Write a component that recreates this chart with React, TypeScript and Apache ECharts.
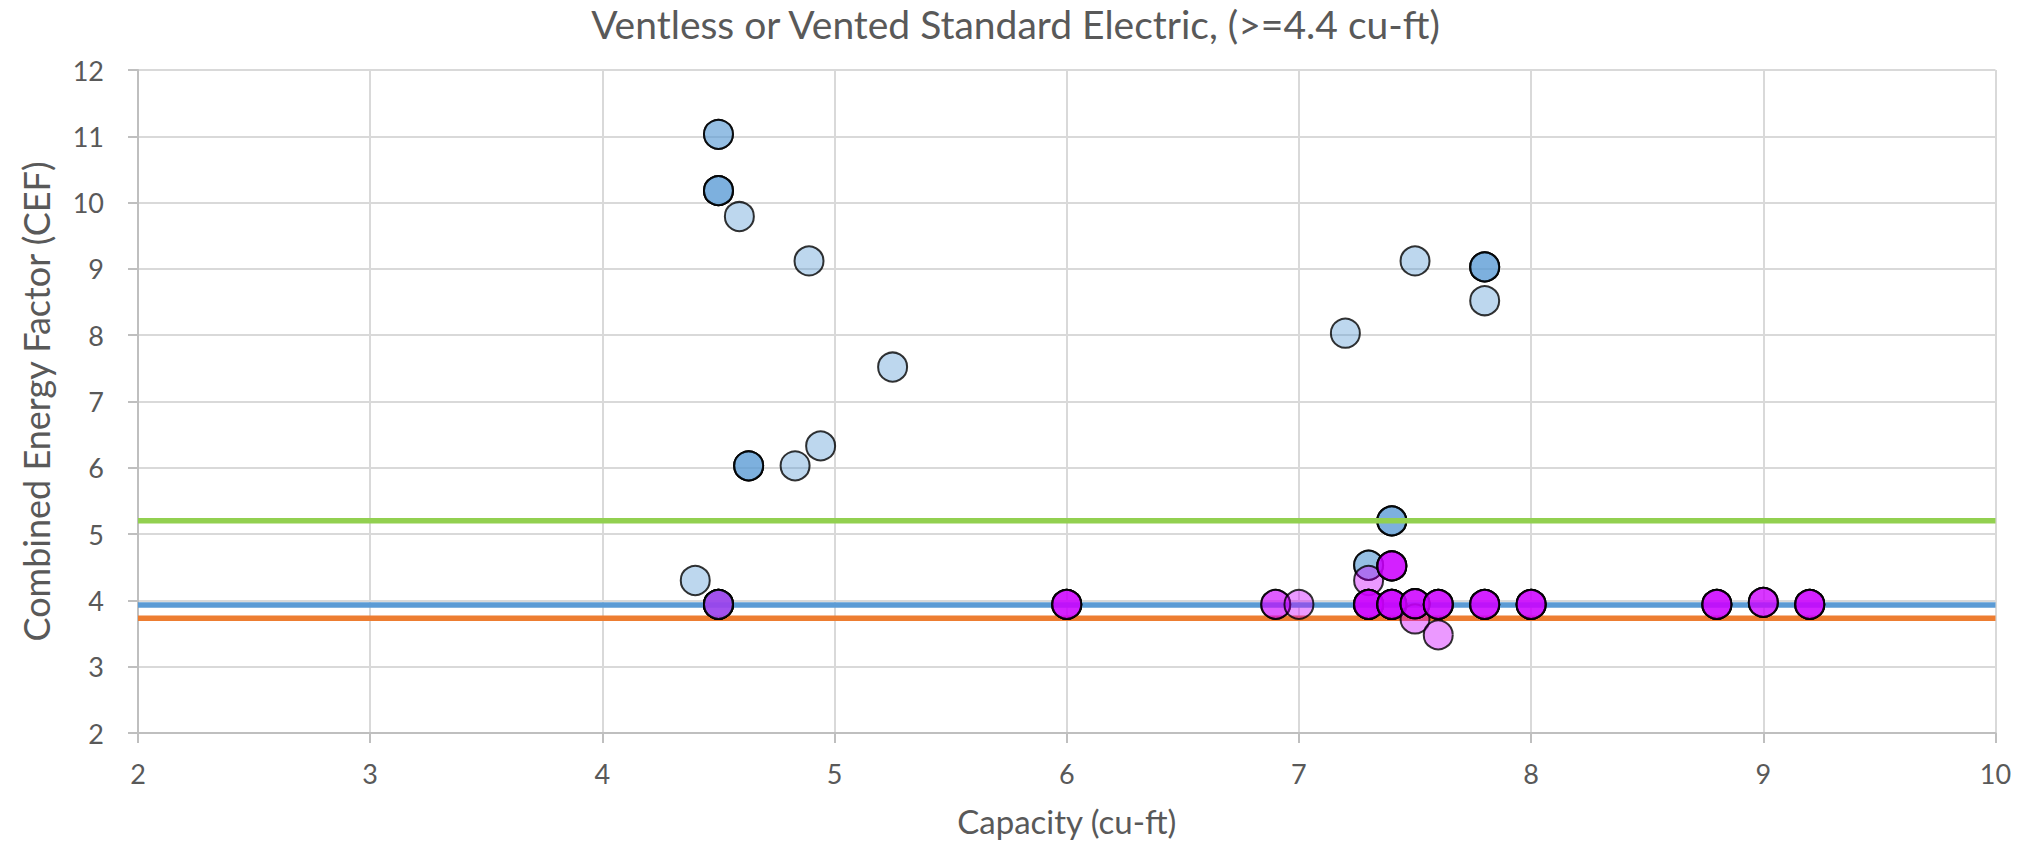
import React, { useEffect, useRef } from "react";
import * as echarts from "echarts";

const TITLE = "Ventless or Vented Standard Electric, (>=4.4 cu-ft)";
const X_NAME = "Capacity (cu-ft)";
const Y_NAME = "Combined Energy Factor (CEF)";

const X_MIN = 2;
const X_MAX = 10;
const Y_MIN = 2;
const Y_MAX = 12;

// Reference levels (CEF)
const GREEN_LEVEL = 5.2;
const BLUE_LEVEL = 3.93;
const ORANGE_LEVEL = 3.73;

// Blue (semi-transparent) models; repeated entries = overlapping models
const BLUE_POINTS: [number, number][] = [
  [4.5, 11.03], [4.5, 11.03],
  [4.5, 10.18], [4.5, 10.18], [4.5, 10.18],
  [4.59, 9.79],
  [4.89, 9.12],
  [5.25, 7.52],
  [4.63, 6.03], [4.63, 6.03], [4.63, 6.03],
  [4.83, 6.03],
  [4.94, 6.33],
  [4.4, 4.3],
  [7.2, 8.03],
  [7.5, 9.12],
  [7.8, 9.03], [7.8, 9.03], [7.8, 9.03],
  [7.8, 8.52],
  [7.4, 5.2], [7.4, 5.2], [7.4, 5.2],
  [7.3, 4.53], [7.3, 4.53],
];

// Magenta (semi-transparent) models
const MAGENTA_POINTS: [number, number][] = [
  [4.5, 3.94], [4.5, 3.94], [4.5, 3.94], [4.5, 3.94],
  [6.0, 3.94], [6.0, 3.94], [6.0, 3.94], [6.0, 3.94],
  [6.9, 3.94], [6.9, 3.94],
  [7.0, 3.94],
  [7.3, 4.3],
  [7.3, 3.94], [7.3, 3.94], [7.3, 3.94], [7.3, 3.94], [7.3, 3.94],
  [7.4, 3.94], [7.4, 3.94], [7.4, 3.94], [7.4, 3.94], [7.4, 3.94],
  [7.5, 3.72],
  [7.5, 3.95], [7.5, 3.95], [7.5, 3.95], [7.5, 3.95],
  [7.6, 3.48],
  [7.6, 3.94], [7.6, 3.94], [7.6, 3.94], [7.6, 3.94],
  [7.8, 3.94], [7.8, 3.94], [7.8, 3.94], [7.8, 3.94],
  [8.0, 3.94], [8.0, 3.94], [8.0, 3.94], [8.0, 3.94],
  [8.8, 3.94], [8.8, 3.94], [8.8, 3.94], [8.8, 3.94],
  [9.0, 3.97], [9.0, 3.97], [9.0, 3.97],
  [9.2, 3.94], [9.2, 3.94], [9.2, 3.94], [9.2, 3.94],
  [7.4, 4.52], [7.4, 4.52], [7.4, 4.52], [7.4, 4.52],
];

// Blue models drawn above the magenta ones
const BLUE_TOP_POINTS: [number, number][] = [[4.5, 3.94]];

const FONT = "Lato";
const TEXT_COLOR = "#595959";

export default function App() {
  const ref = useRef<HTMLDivElement>(null);

  useEffect(() => {
    document.body.style.margin = "0";
    if (!ref.current) return;
    const chart = echarts.init(ref.current, undefined, { renderer: "svg" });

    const markerStyle = (color: string) => ({
      color,
      borderColor: "#000000",
      borderWidth: 2,
    });

    const levelLine = (name: string, level: number, color: string, z: number) => ({
      name,
      type: "line",
      data: [[X_MIN, level], [X_MAX, level]],
      symbol: "none",
      lineStyle: { color, width: 5.5 },
      silent: true,
      z,
    });

    const scatter = (name: string, data: [number, number][], color: string, z: number) => ({
      name,
      type: "scatter",
      data,
      symbol: "circle",
      symbolSize: 29,
      itemStyle: markerStyle(color),
      emphasis: { disabled: true },
      silent: true,
      z,
    });

    const axisCommon = {
      type: "value",
      axisLine: { show: true, onZero: false, lineStyle: { color: "#BFBFBF", width: 2 } },
      axisTick: { show: true, length: 10, lineStyle: { color: "#BFBFBF", width: 2 } },
      splitLine: { show: true, lineStyle: { color: "#D9D9D9", width: 2 } },
      nameLocation: "middle",
    };

    chart.setOption({
      animation: false,
      backgroundColor: "#ffffff",
      textStyle: { fontFamily: FONT },
      title: {
        text: TITLE,
        left: "center",
        top: 0,
        padding: [4, 5, 5, 5],
        textStyle: { color: TEXT_COLOR, fontSize: 39, fontWeight: "normal", fontFamily: FONT },
      },
      grid: { left: 138, right: 35.5, top: 70, bottom: 115, containLabel: false, outerBoundsMode: "none" },
      xAxis: {
        ...axisCommon,
        min: X_MIN,
        max: X_MAX,
        interval: 1,
        name: X_NAME,
        nameGap: 71,
        nameTextStyle: { color: TEXT_COLOR, fontSize: 33, fontFamily: FONT },
        axisLabel: { margin: 27, color: TEXT_COLOR, fontSize: 27, fontFamily: FONT },
      },
      yAxis: {
        ...axisCommon,
        min: Y_MIN,
        max: Y_MAX,
        interval: 1,
        name: Y_NAME,
        nameGap: 84,
        nameTextStyle: { color: TEXT_COLOR, fontSize: 36, fontFamily: FONT },
        axisLabel: { margin: 34, color: TEXT_COLOR, fontSize: 27, fontFamily: FONT },
      },
      series: [
        levelLine("Blue level", BLUE_LEVEL, "#5B9BD5", 1),
        levelLine("Orange level", ORANGE_LEVEL, "#ED7D31", 1),
        scatter("Blue models", BLUE_POINTS, "rgba(91,155,213,0.5)", 2),
        scatter("Magenta models", MAGENTA_POINTS, "rgba(204,0,255,0.5)", 3),
        scatter("Blue models (top)", BLUE_TOP_POINTS, "rgba(91,155,213,0.5)", 4),
        levelLine("Green level", GREEN_LEVEL, "#92D050", 5),
      ],
    });

    return () => chart.dispose();
  }, []);

  return <div ref={ref} style={{ width: "2031px", height: "848px" }} />;
}
